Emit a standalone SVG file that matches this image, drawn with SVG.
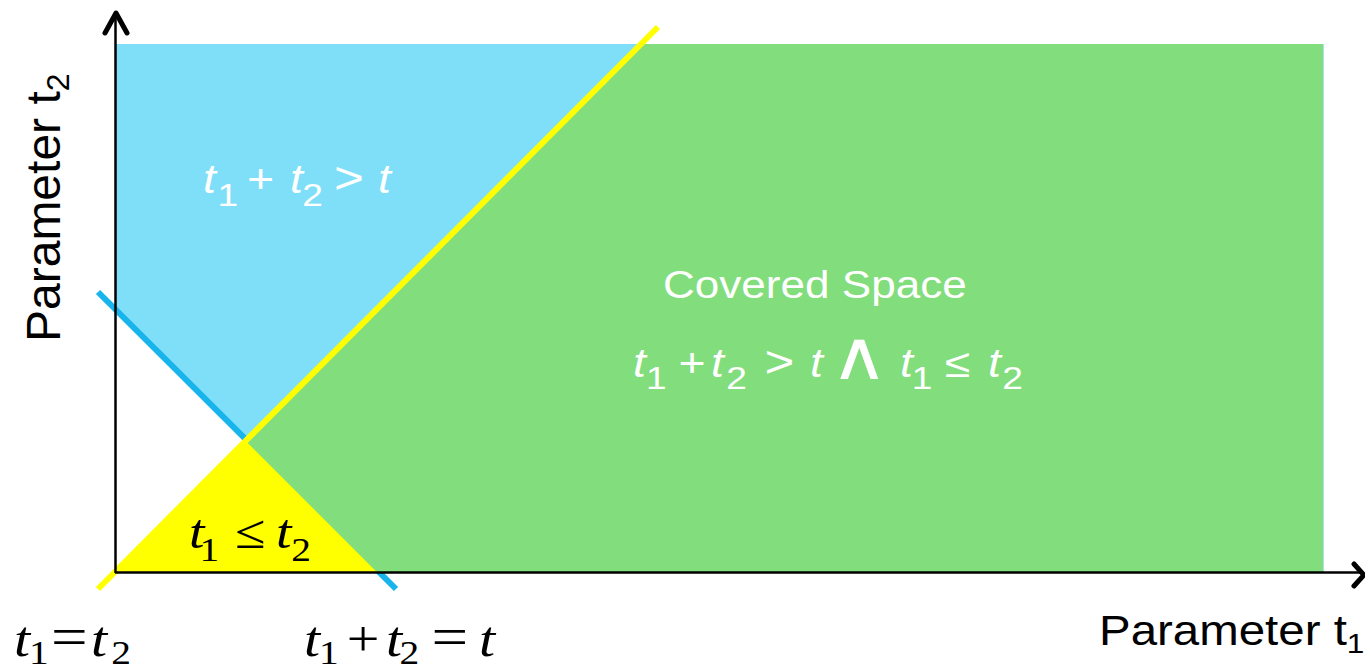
<svg xmlns="http://www.w3.org/2000/svg" width="1365" height="668" viewBox="0 0 1365 668">
<defs>
<style>
.ax{stroke:#000;stroke-width:2.5;fill:none}
.ah{stroke:#000;stroke-width:5;fill:none;stroke-linecap:round;stroke-linejoin:round}
.sans{font-family:"Liberation Sans",Arial,sans-serif}
.w{fill:#fff}
.k{fill:#000}
.it{font-style:italic}
.tm{font-family:"Liberation Serif","Times New Roman",serif;fill:#000}
</style>
</defs>
<rect width="1365" height="668" fill="#fff"/>
<g id="regions">
<polygon id="blue-region" points="115,44 641,44 246,441 115,310" fill="#80DFF8"/>
<line id="line-sum" x1="98" y1="292" x2="396" y2="589" stroke="#17B5EC" stroke-width="6"/>
<polygon id="green-region" points="641,44 1323,44 1323,572 377,572 246,441" fill="#82DD7C"/>
<polygon id="yellow-region" points="115,572 246,441 377,572" fill="#FFFF00"/>
<line x1="1323.5" y1="44" x2="1323.5" y2="572" stroke="#A8E0F0" stroke-width="1"/>
</g>
<g id="connectors">
<line id="line-eq" x1="98" y1="589" x2="658" y2="27" stroke="#FFFF00" stroke-width="6"/>
<line class="ax" x1="115.5" y1="18" x2="115.5" y2="573"/>
<line class="ax" x1="115" y1="572.5" x2="1362" y2="572.5"/>
<polyline class="ah" points="105,33 116,13 127,33"/>
<polyline class="ah" points="1354,564 1364,575 1354,586"/>
</g>
<g id="axis-labels">
<text class="sans k" font-size="48" transform="translate(60,342) rotate(-90)">Parameter t<tspan font-size="32" dy="9">2</tspan></text>
<text class="sans k" font-size="42" transform="translate(1099,645) scale(1.13,1)">Parameter t<tspan font-size="28" dy="8">1</tspan></text>
</g>
<g id="label-blue">
<g transform="scale(1.16,1)">
<text class="sans w" font-size="40"><tspan class="it" x="175" y="193">t</tspan><tspan font-size="32" x="187.5" y="206">1</tspan><tspan x="213" y="193">+</tspan><tspan class="it" x="250" y="193">t</tspan><tspan font-size="32" x="260.5" y="206">2</tspan><tspan font-size="44" x="288" y="193">&gt;</tspan><tspan class="it" x="325.9" y="193">t</tspan></text>
</g>
</g>
<g id="label-green">
<text class="sans w" font-size="38" transform="translate(663,298) scale(1.16,1)">Covered Space</text>
<g transform="scale(1.16,1)">
<text class="sans w" font-size="40"><tspan class="it" x="545.7" y="377">t</tspan><tspan font-size="32" x="557" y="389">1</tspan><tspan x="585" y="377">+</tspan><tspan class="it" x="612.9" y="377">t</tspan><tspan font-size="32" x="626" y="389">2</tspan><tspan font-size="44" x="659" y="377">&gt;</tspan><tspan class="it" x="698.3" y="377">t</tspan><tspan class="it" x="775.9" y="377">t</tspan><tspan font-size="32" x="786" y="389">1</tspan><tspan x="814.7" y="377">≤</tspan><tspan class="it" x="851.7" y="377">t</tspan><tspan font-size="32" x="864" y="389">2</tspan></text>
</g>
<text font-family="'DejaVu Sans', sans-serif" font-weight="200" fill="#fff" font-size="40" transform="translate(830,379) scale(2.0,1.7)">∧</text>
</g>
<g id="label-yellow">
<g transform="scale(1.16,1)">
<text class="tm" font-size="48"><tspan class="it" x="163" y="548">t</tspan><tspan font-size="34" x="172" y="561">1</tspan><tspan x="202.5" y="548">≤</tspan><tspan class="it" x="238" y="548">t</tspan><tspan font-size="34" x="251" y="561">2</tspan></text>
</g>
</g>
<g id="label-eq">
<g transform="scale(1.16,1)">
<text class="tm" font-size="50"><tspan class="it" x="12.1" y="656">t</tspan><tspan font-size="34" x="25" y="664">1</tspan><tspan font-size="56" x="44" y="656">=</tspan><tspan class="it" x="78.4" y="656">t</tspan><tspan font-size="34" x="96" y="664">2</tspan></text>
</g>
</g>
<g id="label-sum">
<g transform="scale(1.16,1)">
<text class="tm" font-size="50"><tspan class="it" x="262.1" y="656">t</tspan><tspan font-size="34" x="275" y="664">1</tspan><tspan x="299" y="656">+</tspan><tspan class="it" x="332.8" y="656">t</tspan><tspan font-size="34" x="344.5" y="664">2</tspan><tspan font-size="56" x="372" y="656">=</tspan><tspan class="it" x="412.9" y="656">t</tspan></text>
</g>
</g>
</svg>
